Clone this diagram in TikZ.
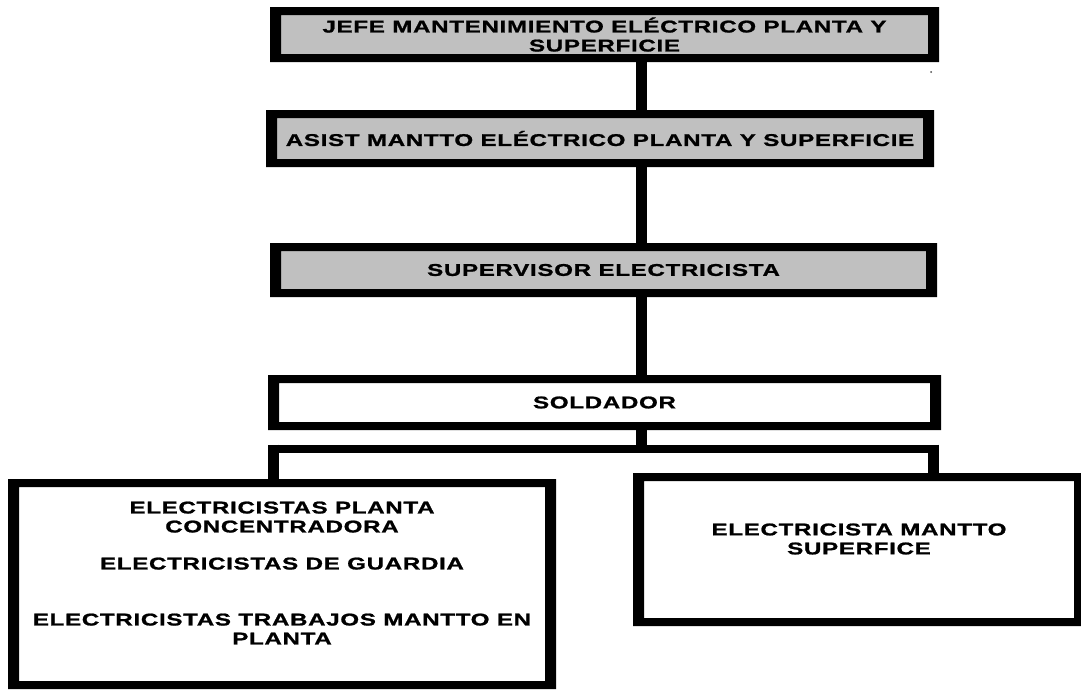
\documentclass[tikz,border=0pt]{standalone}
\usepackage{fontspec}
\newfontfamily\orgfont{Liberation Sans}[FakeStretch=1.42,LetterSpace=4.0,FakeBold=1.2]
\definecolor{boxgray}{RGB}{192,192,192}
% frame thickness: vertical sides and horizontal sides
\def\sideW{11pt}
\def\capH{8pt}
\tikzset{
  orgfontstyle/.style={font=\orgfont\bfseries\fontsize{17}{19}\selectfont},
  orgbox/.style={rectangle, inner sep=0pt, fill=#1, align=center, orgfontstyle,
    path picture={\fill[black,even odd rule]
      (path picture bounding box.south west) rectangle (path picture bounding box.north east)
      ([xshift=\sideW,yshift=\capH]path picture bounding box.south west)
        rectangle ([xshift=-\sideW,yshift=-\capH]path picture bounding box.north east);}},
  orgbox/.default=white,
  boxtext/.style={inner sep=0pt, align=center, orgfontstyle},
  vlink/.style={line width=11pt},
  hlink/.style={line width=8pt}
}
\begin{document}
\begin{tikzpicture}[x=1pt,y=-1pt]
\fill[white] (0,0) rectangle (1081,689);
\useasboundingbox (0,0) rectangle (1081,689);

% hierarchy boxes
\node[orgbox=boxgray, minimum width=669pt, minimum height=55pt] (jefe) at (604.5,34.5)
  {JEFE MANTENIMIENTO ELÉCTRICO PLANTA Y\\SUPERFICIE};
\node[orgbox=boxgray, minimum width=668pt, minimum height=57pt] (asist) at (600,138.5)
  {ASIST MANTTO ELÉCTRICO PLANTA Y SUPERFICIE};
\node[orgbox=boxgray, minimum width=667pt, minimum height=54pt] (superv) at (603.5,270)
  {SUPERVISOR ELECTRICISTA};
\node[orgbox=white, minimum width=673pt, minimum height=55pt] (soldador) at (604.5,402.5)
  {SOLDADOR};
\node[orgbox=white, minimum width=548pt, minimum height=210pt] (leftbox) at (282,584) {};
\node[orgbox=white, minimum width=452pt, minimum height=153pt] (rightbox) at (859,549.5) {};

% texts of the two bottom boxes
\node[boxtext] (lefttext) at (282,573)
  {ELECTRICISTAS PLANTA\\CONCENTRADORA\\[18pt]ELECTRICISTAS DE GUARDIA\\[37pt]ELECTRICISTAS TRABAJOS MANTTO EN\\PLANTA};
\node[boxtext] (righttext) at (859,539) {ELECTRICISTA MANTTO\\SUPERFICE};

% connectors
\coordinate (spine) at (641,0);
\coordinate (jl) at (273.5,448.5);
\coordinate (jr) at (933.5,448.5);
\coordinate (jm) at (641,448.5);
\draw[vlink] (jefe.south -| spine) -- (asist.north -| spine);
\draw[vlink] (asist.south -| spine) -- (superv.north -| spine);
\draw[vlink] (superv.south -| spine) -- (soldador.north -| spine);
\draw[vlink] (soldador.south -| spine) -- (jm);
\draw[hlink] ([xshift=-5.5pt]jl) -- ([xshift=5.5pt]jr);
\draw[vlink] ([yshift=4pt]jl) -- (leftbox.north -| jl);
\draw[vlink] ([yshift=4pt]jr) -- (rightbox.north -| jr);

% stray dot right of the top box
\fill[black!70] (931,72) circle (1pt);
\end{tikzpicture}
\end{document}
